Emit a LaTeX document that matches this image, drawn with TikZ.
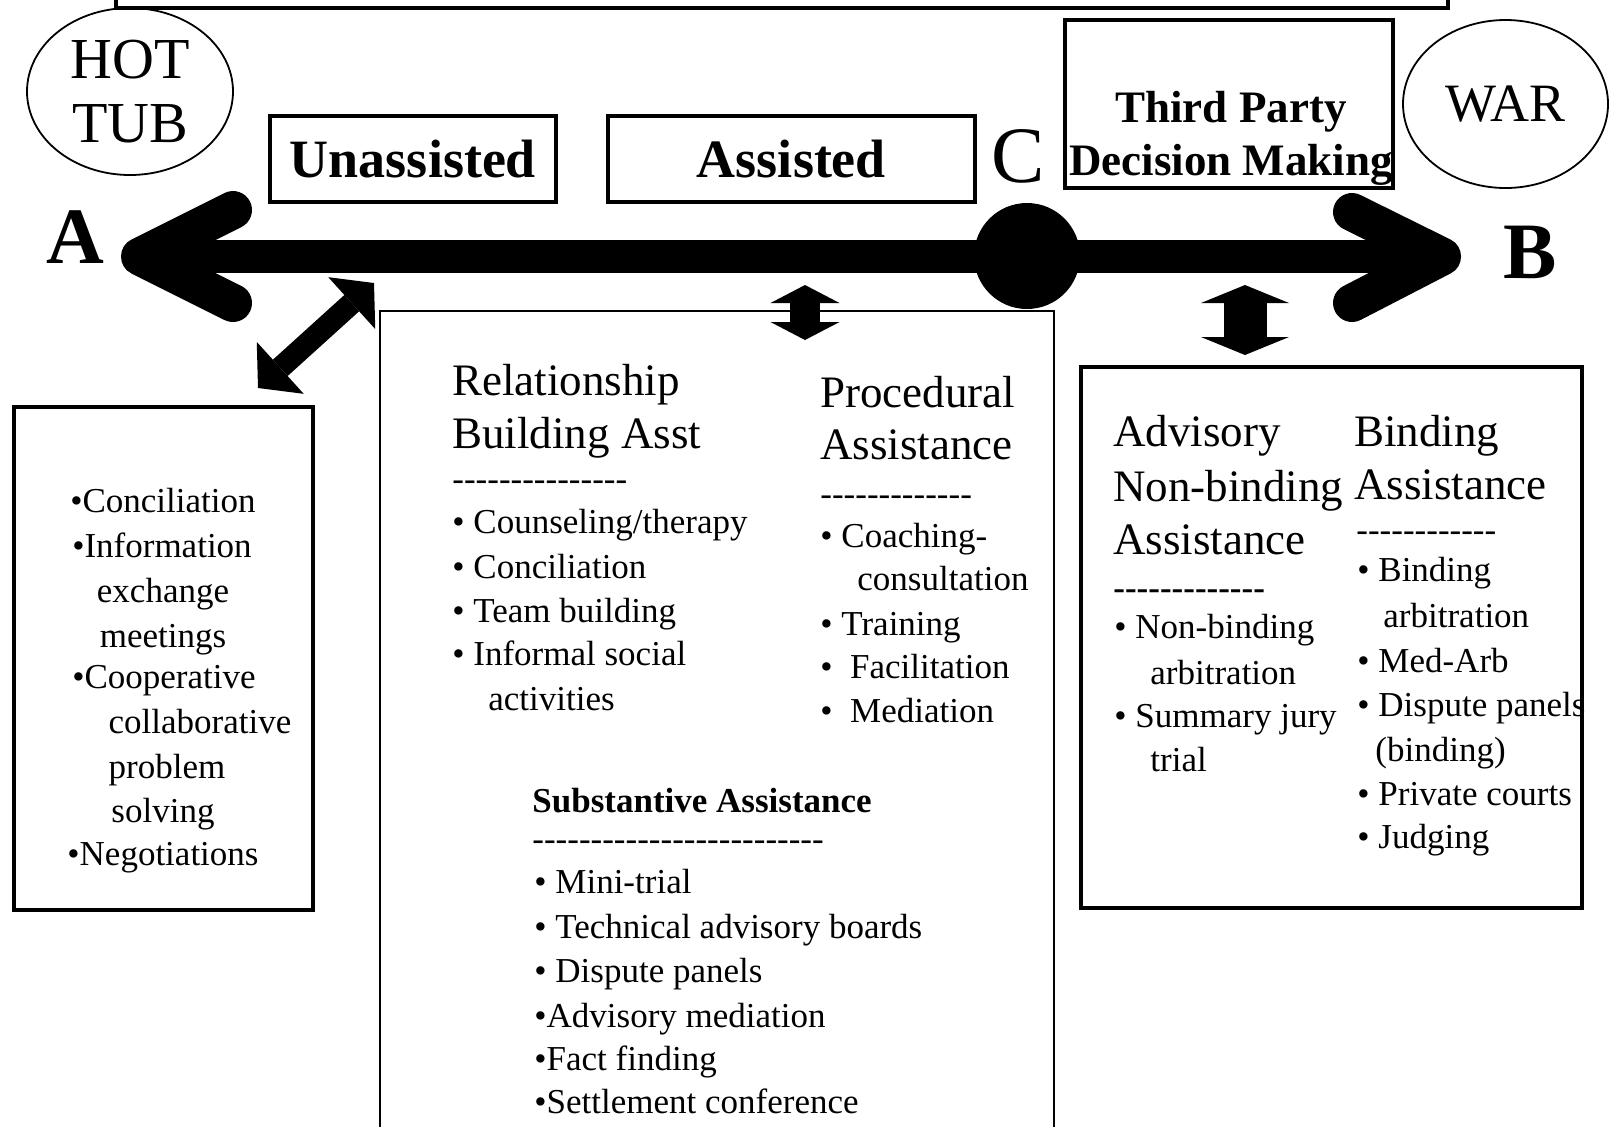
\documentclass[tikz,border=0pt]{standalone}
\usepackage{fontspec}
\setmainfont{Liberation Serif}
\usetikzlibrary{arrows.meta,shapes.geometric}
\newcommand{\dashrow}[1]{\foreach \k in {1,...,#1}{\hbox{-}}}
\tikzset{
  frame/.style={draw, line width=1.8pt, inner sep=0pt},
  ring/.style={draw, ellipse, line width=0.9pt, inner sep=0pt, align=center},
  head/.style={anchor=base west, inner sep=0pt, font=\fontsize{22.5}{27}\selectfont},
  item/.style={anchor=base west, inner sep=0pt, font=\fontsize{17.5}{21}\selectfont},
  citem/.style={item, anchor=base},
  pole/.style={anchor=base, inner sep=0pt, font=\bfseries\fontsize{40}{44}\selectfont},
  bar/.style={line width=16.5pt},
  barhead/.style={line width=19pt, line cap=round, line join=round},
}
\begin{document}
\begin{tikzpicture}[x=0.5pt, y=-0.5pt]
\useasboundingbox (0,0) rectangle (1610,1126);

\node[frame, minimum width=666pt, minimum height=19pt] (topbox) at (782,-11) {};

\node[ring, minimum width=103pt, minimum height=83.5pt, font=\fontsize{29}{32}\selectfont] (hottub) at (130,91.5) {HOT\\TUB};
\node[ring, minimum width=102.5pt, minimum height=84pt, font=\fontsize{27}{30}\selectfont] (war) at (1505.5,104) {WAR};

\node[frame, minimum width=143pt, minimum height=43pt, font=\bfseries\fontsize{27}{30}\selectfont] (unassisted) at (413,159) {Unassisted};
\node[frame, minimum width=183.5pt, minimum height=43pt, font=\bfseries\fontsize{27}{30}\selectfont] (assisted) at (791.5,159) {Assisted};
\node[frame, minimum width=164pt, minimum height=84pt] (thirdparty) at (1229,104) {};
\node[anchor=base, inner sep=0pt, font=\bfseries\fontsize{22.5}{27}\selectfont] (tp1) at (1231,122) {Third Party};
\node[anchor=base, inner sep=0pt, font=\bfseries\fontsize{22.5}{27}\selectfont] (tp2) at (1231,175) {Decision Making};

\node[pole] (ptA) at (75,263) {A};
\node[pole] (ptB) at (1530,278) {B};
\node[anchor=base, inner sep=0pt, font=\fontsize{40}{44}\selectfont] (ptC) at (1018,182) {C};

\coordinate (endA) at (140,256.5);
\coordinate (endB) at (1442,256.5);
\coordinate (armA1) at (233,210);
\coordinate (armA2) at (233,303);
\coordinate (armB1) at (1352,212);
\coordinate (armB2) at (1352,303);
\draw[bar] (endA) -- (endB);
\draw[barhead] (armA1) -- (endA) -- (armA2);
\draw[barhead] (armB1) -- (endB) -- (armB2);
\node[circle, fill, minimum size=53pt, inner sep=0pt] (midC) at (1027,256) {};

\node[frame, minimum width=149.5pt, minimum height=251.5pt] (leftbox) at (163.5,658.5) {};
\node[frame, line width=1.4pt, minimum width=337pt, minimum height=419.5pt] (midbox) at (717,730.5) {};
\node[frame, minimum width=250.5pt, minimum height=270.5pt] (rightbox) at (1331.5,637.5) {};

\coordinate (dgA) at (374,283);
\coordinate (dgB) at (258,388);
\coordinate (vmA) at (805,285);
\coordinate (vmB) at (805,340);
\coordinate (vrA) at (1245,285);
\coordinate (vrB) at (1245,355);
\draw[line width=11pt, {Triangle[width=35pt,length=15pt,line width=0pt]}-{Triangle[width=35pt,length=15pt,line width=0pt]}] (dgA) -- (dgB);
\draw[line width=15pt, {Triangle[width=34.5pt,length=9pt,line width=0pt]}-{Triangle[width=34.5pt,length=9pt,line width=0pt]}] (vmA) -- (vmB);
\draw[line width=21.5pt, {Triangle[width=44pt,length=9pt,line width=0pt]}-{Triangle[width=44pt,length=9pt,line width=0pt]}] (vrA) -- (vrB);

\node[citem] (lb1) at (163,512) {•Conciliation};
\node[citem] (lb2) at (162,557) {•Information};
\node[citem] (lb3) at (163,602) {exchange};
\node[citem] (lb4) at (163,647) {meetings};
\node[citem] (lb5) at (164,688) {•Cooperative};
\node[citem] (lb6) at (200,733) {collaborative};
\node[citem] (lb7) at (167,778) {problem};
\node[citem] (lb8) at (163,822) {solving};
\node[citem] (lb9) at (163,865) {•Negotiations};

\node[head] (rel1) at (452,395) {Relationship};
\node[head] (rel2) at (452,448) {Building Asst};
\node[item] (reldash) at (452,490) {\dashrow{15}};
\node[item] (rel3) at (452,533) {• Counseling/therapy};
\node[item] (rel4) at (452,578) {• Conciliation};
\node[item] (rel5) at (452,622) {• Team building};
\node[item] (rel6) at (452,665) {• Informal social};
\node[item] (rel7) at (488,710) {activities};

\node[head] (pro1) at (820,407) {Procedural};
\node[head] (pro2) at (820,459) {Assistance};
\node[item] (prodash) at (820,505) {\dashrow{13}};
\node[item] (pro3) at (820,547) {• Coaching-};
\node[item] (pro4) at (857,590) {consultation};
\node[item] (pro5) at (820,635) {• Training};
\node[item] (pro6) at (820,678) {•\ \ Facilitation};
\node[item] (pro7) at (820,722) {•\ \ Mediation};

\node[item, font=\bfseries\fontsize{17.5}{21}\selectfont] (sub1) at (532,812) {Substantive Assistance};
\node[item] (subdash) at (532,850) {\dashrow{25}};
\node[item] (sub2) at (534,893) {• Mini-trial};
\node[item] (sub3) at (534,938) {• Technical advisory boards};
\node[item] (sub4) at (534,982) {• Dispute panels};
\node[item] (sub5) at (534,1027) {•Advisory mediation};
\node[item] (sub6) at (534,1070) {•Fact finding};
\node[item] (sub7) at (534,1113) {•Settlement conference};

\node[head] (adv1) at (1113,446) {Advisory};
\node[head] (adv2) at (1113,501) {Non-binding};
\node[head] (adv3) at (1113,554) {Assistance};
\node[item, font=\bfseries\fontsize{17.5}{21}\selectfont] (advdash) at (1113,599) {\dashrow{13}};
\node[item] (adv4) at (1114,638) {• Non-binding};
\node[item] (adv5) at (1150,684) {arbitration};
\node[item] (adv6) at (1114,727) {• Summary jury};
\node[item] (adv7) at (1150,771) {trial};

\node[head] (bin1) at (1354,446) {Binding};
\node[head] (bin2) at (1354,499) {Assistance};
\node[item] (bindash) at (1356,541) {\dashrow{12}};
\node[item] (bin3) at (1357,581) {• Binding};
\node[item] (bin4) at (1383,627) {arbitration};
\node[item] (bin5) at (1357,672) {• Med-Arb};
\node[item] (bin6) at (1357,716) {• Dispute panels};
\node[item] (bin7) at (1375,761) {(binding)};
\node[item] (bin8) at (1357,805) {• Private courts};
\node[item] (bin9) at (1357,848) {• Judging};
\end{tikzpicture}
\end{document}
